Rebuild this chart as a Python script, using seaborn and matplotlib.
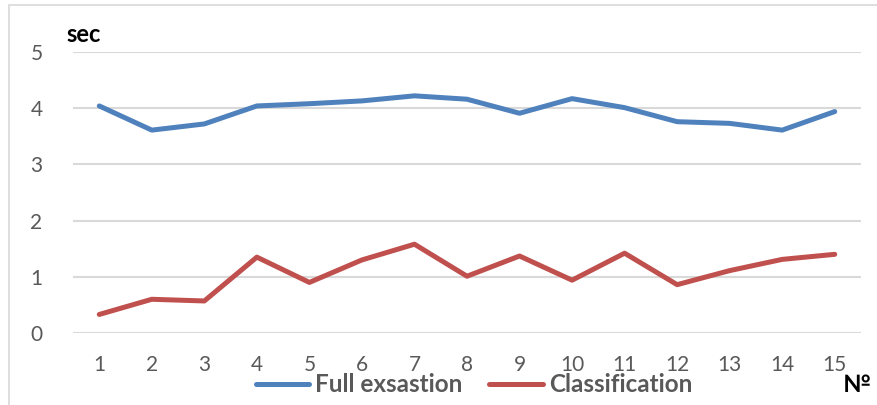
import pandas as pd
import numpy as np
import matplotlib.pyplot as plt
import seaborn as sns
from matplotlib.patches import Rectangle

# dữ liệu
runs = list(range(1, 16))
full_exsastion = [4.04, 3.61, 3.72, 4.04, 4.08, 4.13, 4.22, 4.16, 3.91, 4.17, 4.01, 3.76, 3.73, 3.61, 3.94]
classification = [0.33, 0.60, 0.57, 1.35, 0.90, 1.30, 1.58, 1.01, 1.37, 0.94, 1.42, 0.86, 1.11, 1.31, 1.40]
series_names = ['Full exsastion', 'Classification']
y_ticks = [0, 1, 2, 3, 4, 5]

df = pd.DataFrame({
    'run': runs * 2,
    'time': full_exsastion + classification,
    'series': [series_names[0]] * len(runs) + [series_names[1]] * len(runs),
})

sns.set_style('white')
plt.rcParams['font.family'] = ['Lato', 'DejaVu Sans']

fig = plt.figure(figsize=(8.77, 4.05), dpi=100)
ax = fig.add_axes([73 / 877, 1 - 333 / 405, (861 - 73) / 877, (333 - 52) / 405])

# khung viền ngoài
fig.patches.append(Rectangle((9 / 877, -0.1), 1.2, 1 - 5 / 405 + 0.1, transform=fig.transFigure,
                             fill=False, edgecolor='#D9D9D9', linewidth=1.2))

palette = {series_names[0]: '#4F81BD', series_names[1]: '#C0504D'}
sns.lineplot(data=df, x='run', y='time', hue='series', palette=palette, linewidth=3.6,
             ax=ax, legend=False, solid_capstyle='round')

ax.set_xlim(0.5, 15.5)
ax.set_ylim(0, 5)
ax.set_yticks(y_ticks)
ax.set_xticks(runs)
ax.yaxis.grid(True, color='#D9D9D9', linewidth=1.5)
ax.set_axisbelow(True)
for s in ax.spines.values():
    s.set_visible(False)
ax.tick_params(axis='both', length=0, labelsize=15, labelcolor='#595959')
ax.tick_params(axis='y', pad=22)
ax.tick_params(axis='x', pad=16)
ax.set_xlabel('')
ax.set_ylabel('')

fig.text(66 / 877, 1 - 34 / 405, 'sec', fontsize=17, fontweight='bold', color='black', va='center', ha='left')
fig.text(843 / 877, 1 - 384 / 405, '№', fontsize=17, fontweight='bold', color='black', va='center', ha='left')

handles = [plt.Line2D([], [], color=palette[n], linewidth=3.6, solid_capstyle='round') for n in series_names]
leg = fig.legend(handles, series_names, loc='center', bbox_to_anchor=(474 / 877, 1 - 385 / 405),
                 ncol=2, frameon=False, handlelength=2.2, handletextpad=0.25, columnspacing=1.1,
                 prop={'size': 17.5, 'weight': 'bold'})
for t in leg.get_texts():
    t.set_color('#595959')

fig.savefig('out.png', dpi=100)
